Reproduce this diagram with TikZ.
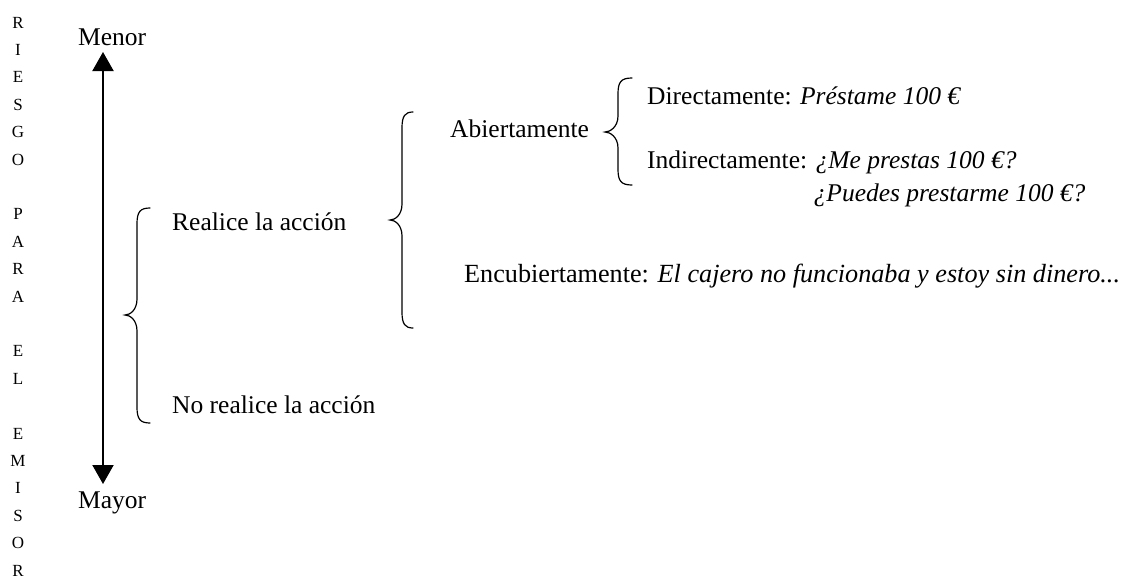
\documentclass[tikz,border=0pt]{standalone}
\usepackage{fontspec}
\setmainfont{Liberation Serif}
\usetikzlibrary{arrows.meta}
\newcommand\mybrace[6]{% xe xv xt ytop ymid ybot
  \draw[bracestyle] (#1,#4) .. controls (#2+3,#4) and (#2,#4+4) .. (#2,#4+16) -- (#2,#5-16)
    .. controls (#2,#5-5) and (#3+5,#5) .. (#3,#5) .. controls (#3+5,#5) and (#2,#5+5) .. (#2,#5+16)
    -- (#2,#6-16) .. controls (#2,#6-4) and (#2+3,#6) .. (#1,#6);}
\tikzset{
  maintext/.style={anchor=base west, inner sep=0pt, font=\fontsize{25.5}{30}\selectfont},
  sidetext/.style={anchor=base, inner sep=0pt, font=\fontsize{17}{20}\selectfont},
  bracestyle/.style={line width=1.2pt, line cap=round},
  scale arrow/.style={line width=2pt, {Triangle[width=21pt,length=19pt]}-{Triangle[width=21pt,length=19pt]}}
}
\begin{document}
\begin{tikzpicture}[x=1pt,y=-1pt]
\useasboundingbox (0,0) rectangle (1128,579);
% vertical side label
\foreach \ch/\k in {R/0,I/1,E/2,S/3,G/4,O/5,P/7,A/8,R/9,A/10,E/12,L/13,E/15,M/16,I/17,S/18,O/19,R/20}
  \node[sidetext] (side\k) at (18,{28+\k*27.4}) {\ch};
% scale
\node[maintext] (menor) at (78,45) {Menor};
\node[maintext] (mayor) at (78,508) {Mayor};
\coordinate (atop) at (103,52);
\coordinate (abot) at (103,484);
\draw[scale arrow] (atop) -- (abot);
% first level
\mybrace{150}{137}{125}{208}{315}{423}
\node[maintext] (realice) at (172,230) {Realice la acción};
\node[maintext] (norealice) at (172,413) {No realice la acción};
% second level
\mybrace{413}{402}{390}{112}{220}{328}
\node[maintext] (abierta) at (450,137) {Abiertamente};
\node[maintext, font=\fontsize{26.2}{30}\selectfont] (encub) at (464,282) {Encubiertamente: \textit{El cajero no funcionaba y estoy sin dinero...}};
% third level
\mybrace{632}{618}{605}{78}{132}{185}
\node[maintext] (direct) at (647,104) {Directamente: \textit{Préstame 100 €}};
\node[maintext] (indirect) at (647,168) {Indirectamente: \textit{¿Me prestas 100 €?}};
\node[maintext] (puedes) at (645,201) {\phantom{Indirectamente: }\textit{¿Puedes prestarme 100 €?}};
\end{tikzpicture}
\end{document}
